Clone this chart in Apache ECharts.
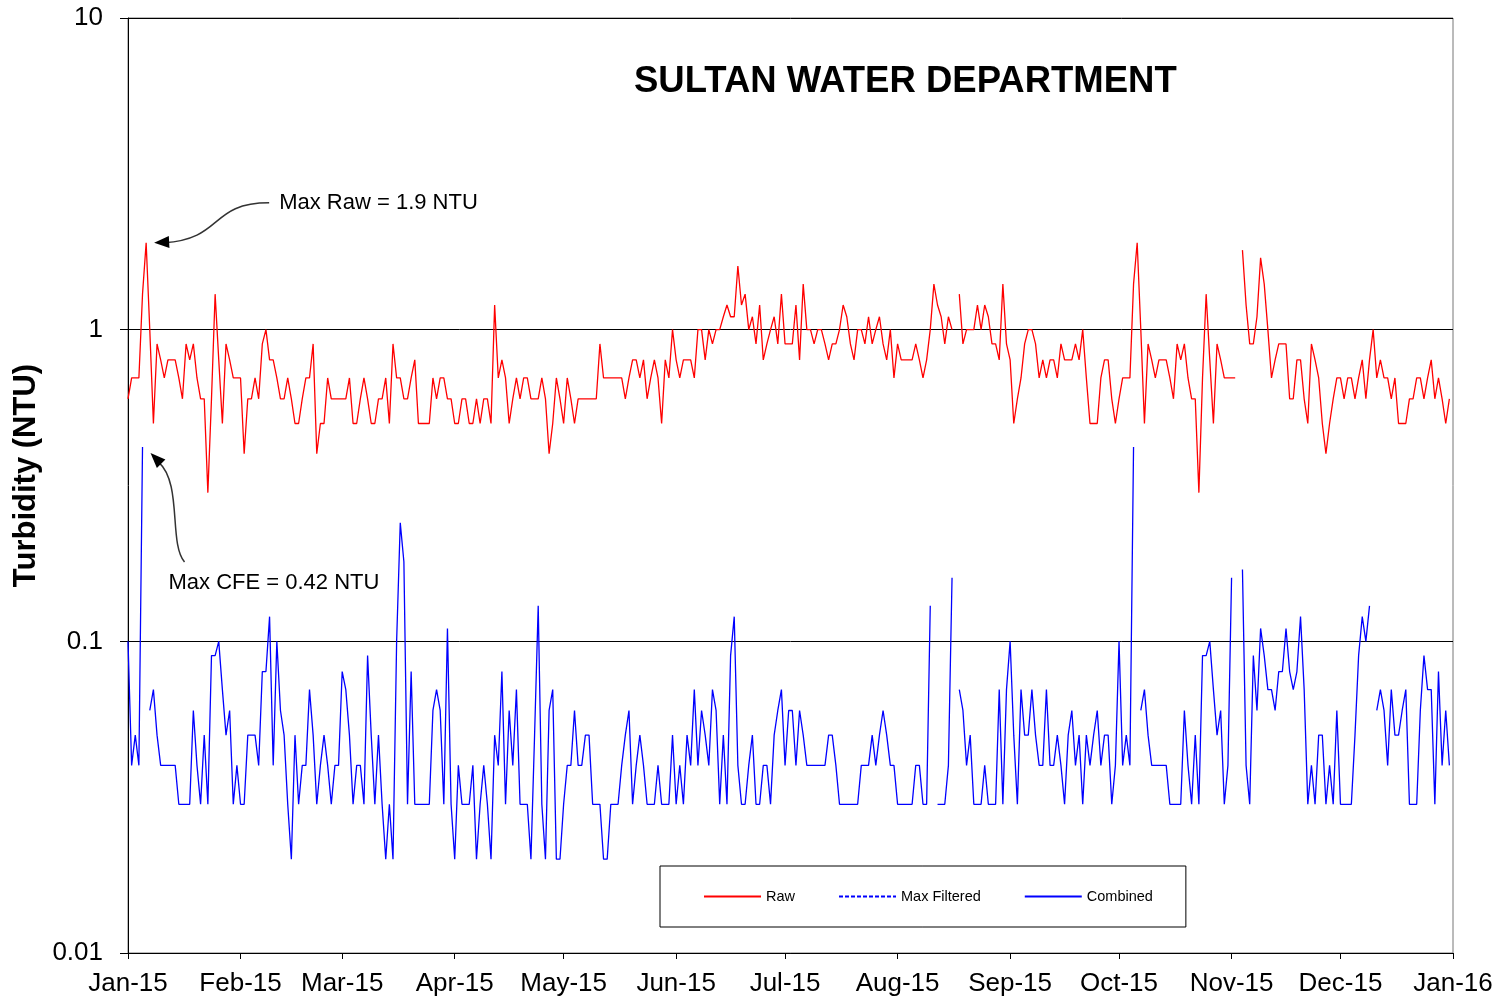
<!DOCTYPE html>
<html>
<head>
<meta charset="utf-8">
<title>Sultan Water Department - Turbidity</title>
<script src="https://cdn.jsdelivr.net/npm/echarts@6/dist/echarts.min.js"></script>
<style>
  html, body { margin: 0; padding: 0; background: #fff; }
  #chart { width: 1498px; height: 1000px; }
</style>
</head>
<body>
<div id="chart"></div>
<script>
// month tick labels and the day (from Jan 1 2015) each month starts on
var monthLabels = ["Jan-15", "Feb-15", "Mar-15", "Apr-15", "May-15", "Jun-15", "Jul-15",
  "Aug-15", "Sep-15", "Oct-15", "Nov-15", "Dec-15", "Jan-16"];
var monthStartDay = [0, 31, 59, 90, 120, 151, 181, 212, 243, 273, 304, 334, 365];

// daily raw water turbidity (NTU), null = no reading
var raw = [
  0.6,0.7,0.7,0.7,1.3,1.9,1.0,0.5,0.9,0.8,
  0.7,0.8,0.8,0.8,0.7,0.6,0.9,0.8,0.9,0.7,
  0.6,0.6,0.3,0.6,1.3,0.8,0.5,0.9,0.8,0.7,
  0.7,0.7,0.4,0.6,0.6,0.7,0.6,0.9,1.0,0.8,
  0.8,0.7,0.6,0.6,0.7,0.6,0.5,0.5,0.6,0.7,
  0.7,0.9,0.4,0.5,0.5,0.7,0.6,0.6,0.6,0.6,
  0.6,0.7,0.5,0.5,0.6,0.7,0.6,0.5,0.5,0.6,
  0.6,0.7,0.5,0.9,0.7,0.7,0.6,0.6,0.7,0.8,
  0.5,0.5,0.5,0.5,0.7,0.6,0.7,0.7,0.6,0.6,
  0.5,0.5,0.6,0.6,0.5,0.5,0.6,0.5,0.6,0.6,
  0.5,1.2,0.7,0.8,0.7,0.5,0.6,0.7,0.6,0.7,
  0.7,0.6,0.6,0.6,0.7,0.6,0.4,0.5,0.7,0.6,
  0.5,0.7,0.6,0.5,0.6,0.6,0.6,0.6,0.6,0.6,
  0.9,0.7,0.7,0.7,0.7,0.7,0.7,0.6,0.7,0.8,
  0.8,0.7,0.8,0.6,0.7,0.8,0.7,0.5,0.8,0.7,
  1.0,0.8,0.7,0.8,0.8,0.8,0.7,1.0,1.0,0.8,
  1.0,0.9,1.0,1.0,1.1,1.2,1.1,1.1,1.6,1.2,
  1.3,1.0,1.1,0.9,1.2,0.8,0.9,1.0,1.1,0.9,
  1.3,0.9,0.9,0.9,1.2,0.8,1.4,1.0,1.0,0.9,
  1.0,1.0,0.9,0.8,0.9,0.9,1.0,1.2,1.1,0.9,
  0.8,1.0,1.0,0.9,1.1,0.9,1.0,1.1,0.9,0.8,
  1.0,0.7,0.9,0.8,0.8,0.8,0.8,0.9,0.8,0.7,
  0.8,1.0,1.4,1.2,1.1,0.9,1.1,1.0,null,1.3,
  0.9,1.0,1.0,1.0,1.2,1.0,1.2,1.1,0.9,0.9,
  0.8,1.4,0.9,0.8,0.5,0.6,0.7,0.9,1.0,1.0,
  0.9,0.7,0.8,0.7,0.8,0.8,0.7,0.9,0.8,0.8,
  0.8,0.9,0.8,1.0,0.7,0.5,0.5,0.5,0.7,0.8,
  0.8,0.6,0.5,0.6,0.7,0.7,0.7,1.4,1.9,1.0,
  0.5,0.9,0.8,0.7,0.8,0.8,0.8,0.7,0.6,0.9,
  0.8,0.9,0.7,0.6,0.6,0.3,0.7,1.3,0.8,0.5,
  0.9,0.8,0.7,0.7,0.7,0.7,null,1.8,1.2,0.9,
  0.9,1.1,1.7,1.4,1.0,0.7,0.8,0.9,0.9,0.9,
  0.6,0.6,0.8,0.8,0.6,0.5,0.9,0.8,0.7,0.5,
  0.4,0.5,0.6,0.7,0.7,0.6,0.7,0.7,0.6,0.7,
  0.8,0.6,0.8,1.0,0.7,0.8,0.7,0.7,0.6,0.7,
  0.5,0.5,0.5,0.6,0.6,0.7,0.7,0.6,0.7,0.8,
  0.6,0.7,0.6,0.5,0.6
];

// daily combined filter effluent turbidity (NTU)
var combined = [
  0.1,0.04,0.05,0.04,0.42,null,0.06,0.07,0.05,0.04,
  0.04,0.04,0.04,0.04,0.03,0.03,0.03,0.03,0.06,0.04,
  0.03,0.05,0.03,0.09,0.09,0.1,0.07,0.05,0.06,0.03,
  0.04,0.03,0.03,0.05,0.05,0.05,0.04,0.08,0.08,0.12,
  0.04,0.1,0.06,0.05,0.03,0.02,0.05,0.03,0.04,0.04,
  0.07,0.05,0.03,0.04,0.05,0.04,0.03,0.04,0.04,0.08,
  0.07,0.05,0.03,0.04,0.04,0.03,0.09,0.05,0.03,0.05,
  0.03,0.02,0.03,0.02,0.1,0.24,0.18,0.03,0.08,0.03,
  0.03,0.03,0.03,0.03,0.06,0.07,0.06,0.03,0.11,0.03,
  0.02,0.04,0.03,0.03,0.03,0.04,0.02,0.03,0.04,0.03,
  0.02,0.05,0.04,0.08,0.03,0.06,0.04,0.07,0.03,0.03,
  0.03,0.02,0.05,0.13,0.03,0.02,0.06,0.07,0.02,0.02,
  0.03,0.04,0.04,0.06,0.04,0.04,0.05,0.05,0.03,0.03,
  0.03,0.02,0.02,0.03,0.03,0.03,0.04,0.05,0.06,0.03,
  0.04,0.05,0.04,0.03,0.03,0.03,0.04,0.03,0.03,0.03,
  0.05,0.03,0.04,0.03,0.05,0.04,0.07,0.04,0.06,0.05,
  0.04,0.07,0.06,0.03,0.05,0.03,0.09,0.12,0.04,0.03,
  0.03,0.04,0.05,0.03,0.03,0.04,0.04,0.03,0.05,0.06,
  0.07,0.04,0.06,0.06,0.04,0.06,0.05,0.04,0.04,0.04,
  0.04,0.04,0.04,0.05,0.05,0.04,0.03,0.03,0.03,0.03,
  0.03,0.03,0.04,0.04,0.04,0.05,0.04,0.05,0.06,0.05,
  0.04,0.04,0.03,0.03,0.03,0.03,0.03,0.04,0.04,0.03,
  0.03,0.13,null,0.03,0.03,0.03,0.04,0.16,null,0.07,
  0.06,0.04,0.05,0.03,0.03,0.03,0.04,0.03,0.03,0.03,
  0.07,0.03,0.07,0.1,0.05,0.03,0.07,0.05,0.05,0.07,
  0.05,0.04,0.04,0.07,0.04,0.04,0.05,0.04,0.03,0.05,
  0.06,0.04,0.05,0.03,0.05,0.04,0.05,0.06,0.04,0.05,
  0.05,0.03,0.04,0.1,0.04,0.05,0.04,0.42,null,0.06,
  0.07,0.05,0.04,0.04,0.04,0.04,0.04,0.03,0.03,0.03,
  0.03,0.06,0.04,0.03,0.05,0.03,0.09,0.09,0.1,0.07,
  0.05,0.06,0.03,0.04,0.16,null,null,0.17,0.04,0.03,
  0.09,0.06,0.11,0.09,0.07,0.07,0.06,0.08,0.08,0.11,
  0.08,0.07,0.08,0.12,0.07,0.03,0.04,0.03,0.05,0.05,
  0.03,0.04,0.03,0.06,0.03,0.03,0.03,0.03,0.05,0.09,
  0.12,0.1,0.13,null,0.06,0.07,0.06,0.04,0.07,0.05,
  0.05,0.06,0.07,0.03,0.03,0.03,0.06,0.09,0.07,0.07,
  0.03,0.08,0.04,0.06,0.04
];

// max filtered: in the legend only, nothing plotted
var maxFiltered = [];

var font = "Liberation Sans, Arial, sans-serif";

// one category per day, Jan 1 2015 through Jan 1 2016
var days = [];
for (var d = 0; d <= 365; d++) days.push(d);

var chartDom = document.getElementById("chart");
var myChart = echarts.init(chartDom);
var option;

option = {
  animation: false,
  backgroundColor: "#fff",
  textStyle: { fontFamily: font },
  title: {
    text: "SULTAN WATER DEPARTMENT",
    left: 629,
    top: 58,
    textStyle: { fontSize: 36.5, fontWeight: "bold", color: "#000", fontFamily: font },
  },
  grid: {
    left: 128,
    right: 45,
    top: 18,
    bottom: 47,
    show: true,
    borderColor: "#777",
    borderWidth: 1,
  },
  legend: {
    data: ["Raw", "Max Filtered", "Combined"],
    left: 660,
    top: 866,
    padding: [23, 33, 23, 43],
    itemGap: 43,
    itemWidth: 57,
    itemHeight: 12,
    borderColor: "#000",
    borderWidth: 1,
    itemStyle: { opacity: 0 },
    textStyle: { fontSize: 14.5, color: "#000", fontFamily: font },
  },
  xAxis: {
    type: "category",
    data: days,
    boundaryGap: false,
    axisLine: { lineStyle: { color: "#000", width: 1 } },
    axisTick: {
      length: 6,
      lineStyle: { color: "#000" },
      interval: function (index) {
        return monthStartDay.indexOf(index) >= 0;
      },
    },
    axisLabel: {
      fontSize: 26,
      color: "#000",
      margin: 18,
      fontFamily: font,
      interval: function (index) {
        return monthStartDay.indexOf(index) >= 0;
      },
      formatter: function (value, index) {
        return monthLabels[monthStartDay.indexOf(Number(value))];
      },
    },
    splitLine: { show: false },
  },
  yAxis: {
    type: "log",
    logBase: 10,
    min: 0.01,
    max: 10,
    name: "Turbidity (NTU)",
    nameLocation: "middle",
    nameGap: 78,
    nameTextStyle: {
      fontSize: 31, fontWeight: "bold", color: "#000", fontFamily: font,
      padding: [0, 0, 0, 20],
    },
    axisLine: { show: true, lineStyle: { color: "#000", width: 1 } },
    axisTick: { show: true, length: 8, lineStyle: { color: "#000" } },
    axisLabel: {
      fontSize: 26,
      color: "#000",
      margin: 25,
      fontFamily: font,
      formatter: function (v) {
        return String(parseFloat(v.toPrecision(2)));
      },
    },
    splitLine: { show: true, lineStyle: { color: "#000", width: 1 } },
  },
  series: [
    {
      name: "Raw",
      type: "line",
      data: raw,
      symbol: "none",
      lineStyle: { color: "#ff0000", width: 1.3 },
      itemStyle: { color: "#ff0000" },
    },
    {
      name: "Max Filtered",
      type: "line",
      data: maxFiltered,
      symbol: "none",
      lineStyle: { color: "#0000ff", width: 1, type: [4, 2] },
      itemStyle: { color: "#0000ff" },
    },
    {
      name: "Combined",
      type: "line",
      data: combined,
      symbol: "none",
      lineStyle: { color: "#0000ff", width: 1.3 },
      itemStyle: { color: "#0000ff" },
    },
  ],
};

option && myChart.setOption(option);

// annotations pointing at the yearly maxima
function arrowHead(tip, from, len, half) {
  var dx = tip[0] - from[0], dy = tip[1] - from[1];
  var l = Math.sqrt(dx * dx + dy * dy);
  var ux = dx / l, uy = dy / l;
  var bx = tip[0] - ux * len, by = tip[1] - uy * len;
  return [tip, [bx - uy * half, by + ux * half], [bx + uy * half, by - ux * half]];
}

var rawMax = Math.max.apply(null, raw.filter(function (v) { return v != null; }));
var cfeMax = Math.max.apply(null, combined.filter(function (v) { return v != null; }));
var pRaw = myChart.convertToPixel({ seriesIndex: 0 }, [raw.indexOf(rawMax), rawMax]);
var pCfe = myChart.convertToPixel({ seriesIndex: 2 }, [combined.indexOf(cfeMax), cfeMax]);

var rawTip = [pRaw[0] + 8, pRaw[1]];
var cfeTip = [pCfe[0] + 8, pCfe[1] + 6];

myChart.setOption({
  graphic: [
    {
      type: "text",
      x: rawTip[0] + 125,
      y: rawTip[1] - 40,
      style: { text: "Max Raw = " + rawMax + " NTU", fontSize: 22, fontFamily: font, fill: "#000", verticalAlign: "middle" },
    },
    {
      type: "bezierCurve",
      shape: {
        x1: rawTip[0] + 115, y1: rawTip[1] - 40,
        cpx1: rawTip[0] + 55, cpy1: rawTip[1] - 40,
        cpx2: rawTip[0] + 70, cpy2: rawTip[1] - 4,
        x2: rawTip[0] + 10, y2: rawTip[1],
      },
      style: { stroke: "#333", lineWidth: 1.5, fill: null },
    },
    {
      type: "polygon",
      shape: { points: arrowHead(rawTip, [rawTip[0] + 20, rawTip[1] - 1], 15, 6) },
      style: { fill: "#000" },
    },
    {
      type: "text",
      x: cfeTip[0] + 18,
      y: cfeTip[1] + 130,
      style: { text: "Max CFE = " + cfeMax + " NTU", fontSize: 22, fontFamily: font, fill: "#000", verticalAlign: "middle" },
    },
    {
      type: "bezierCurve",
      shape: {
        x1: cfeTip[0] + 34, y1: cfeTip[1] + 109,
        cpx1: cfeTip[0] + 18, cpy1: cfeTip[1] + 90,
        cpx2: cfeTip[0] + 32, cpy2: cfeTip[1] + 30,
        x2: cfeTip[0] + 8, y2: cfeTip[1] + 9,
      },
      style: { stroke: "#333", lineWidth: 1.5, fill: null },
    },
    {
      type: "polygon",
      shape: { points: arrowHead(cfeTip, [cfeTip[0] + 14, cfeTip[1] + 14], 15, 6) },
      style: { fill: "#000" },
    },
  ],
});
</script>
</body>
</html>
